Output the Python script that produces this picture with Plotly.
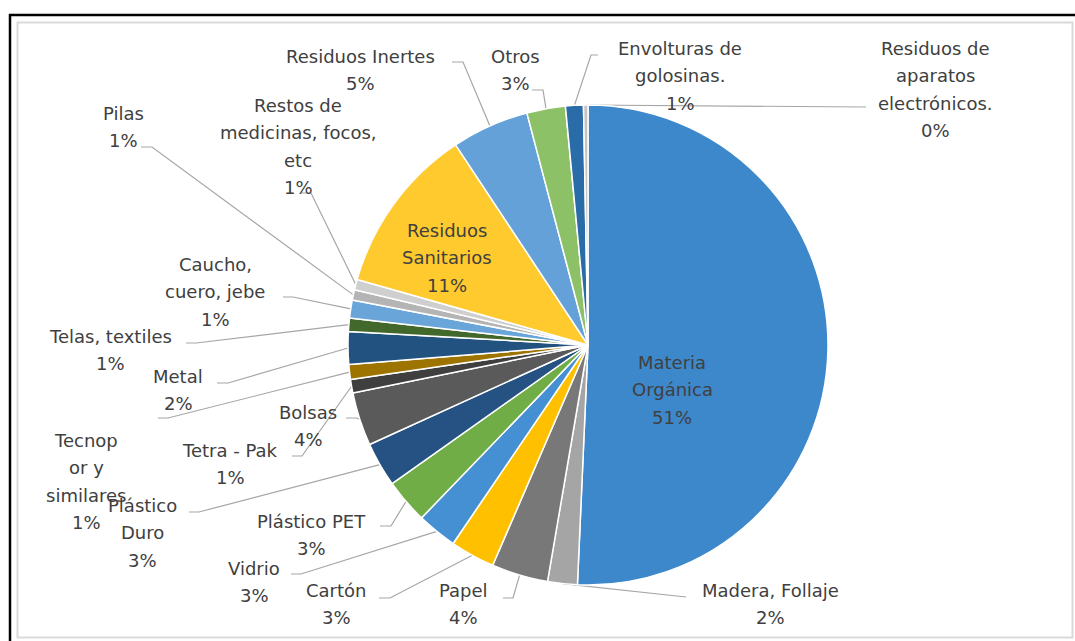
import math
import plotly.graph_objects as go

# Composición de residuos sólidos (%), en el orden en que se dibujan las porciones
CATEGORIAS = [
    "Materia Orgánica", "Madera, Follaje", "Papel", "Cartón", "Vidrio",
    "Plástico PET", "Plástico Duro", "Bolsas", "Tetra - Pak",
    "Tecnopor y similares", "Metal", "Telas, textiles", "Caucho, cuero, jebe",
    "Pilas", "Restos de medicinas, focos, etc", "Residuos Sanitarios",
    "Residuos Inertes", "Otros", "Envolturas de golosinas.",
    "Residuos de aparatos electrónicos.",
]
PORCENTAJES = [
    50.7, 2.0, 3.8, 3.0, 2.7,
    3.0, 3.0, 3.6, 0.9,
    1.0, 2.2, 0.9, 1.2,
    0.7, 0.7, 11.3,
    5.2, 2.6, 1.2,
    0.3,
]
COLORES = [
    "#3D87CB", "#A5A5A5", "#787878", "#FFC000", "#4590D3",
    "#70AD47", "#255282", "#5A5A5A", "#3F3F3F",
    "#9E7400", "#22527F", "#43682B", "#6AA5DA",
    "#B4B4B4", "#CFCFCF", "#FFCA2E",
    "#64A1D8", "#8CC168", "#2A6CA8",
    "#C4C4C4",
]

# Rótulos: centro x, y de la primera línea, líneas de texto, tramo del conector junto al texto
ROTULOS = {
    "Materia Orgánica": (672, 362, ["Materia", "Orgánica"], None),
    "Madera, Follaje": (770, 590, ["Madera, Follaje"], [(686, 597)]),
    "Papel": (463, 590, ["Papel"], [(503, 598), (513, 598)]),
    "Cartón": (336, 590, ["Cartón"], [(379, 598), (390, 598)]),
    "Vidrio": (254, 568, ["Vidrio"], [(291, 574), (301, 574)]),
    "Plástico PET": (311, 521, ["Plástico PET"], [(380, 526), (391, 526)]),
    "Plástico Duro": (142, 505, ["Plástico", "Duro"], [(189, 512), (199, 512)]),
    "Bolsas": (308, 412, ["Bolsas"], [(346, 418), (356, 418)]),
    "Tetra - Pak": (230, 450, ["Tetra - Pak"], [(292, 456), (302, 456)]),
    "Tecnopor y similares": (86, 440, ["Tecnop", "or y", "similares"], [(158, 418), (168, 418)]),
    "Metal": (178, 376, ["Metal"], [(217, 383), (228, 383)]),
    "Telas, textiles": (110, 336, ["Telas, textiles"], [(186, 343), (196, 343)]),
    "Caucho, cuero, jebe": (215, 264, ["Caucho,", "cuero, jebe"], [(283, 297), (293, 297)]),
    "Pilas": (123, 113, ["Pilas"], [(141, 147), (152, 147)]),
    "Restos de medicinas, focos, etc": (298, 105, ["Restos de", "medicinas, focos,", "etc"], [(301, 193), (311, 193)]),
    "Residuos Sanitarios": (447, 230, ["Residuos", "Sanitarios"], None),
    "Residuos Inertes": (360, 56, ["Residuos Inertes"], [(452, 62), (463, 62)]),
    "Otros": (515, 56, ["Otros"], [(532, 90), (543, 90)]),
    "Envolturas de golosinas.": (680, 48, ["Envolturas de", "golosinas."], [(598, 55), (591, 55)]),
    "Residuos de aparatos electrónicos.": (935, 48, ["Residuos de", "aparatos", "electrónicos."], [(866, 107)]),
}

W, H = 1075, 641
CX, CY, R = 588, 345, 240
INTERLINEA = 27.5
FUENTE = dict(family="DejaVu Sans", size=18, color="#404040")

fig = go.Figure()

fig.add_trace(go.Pie(
    labels=CATEGORIAS,
    values=PORCENTAJES,
    sort=False,
    direction="clockwise",
    rotation=0,
    textinfo="none",
    hoverinfo="label+percent",
    marker=dict(colors=COLORES, line=dict(color="white", width=1.5)),
    domain=dict(x=[(CX - R) / W, (CX + R) / W],
                y=[(H - CY - R) / H, (H - CY + R) / H]),
    showlegend=False,
))

total = sum(PORCENTAJES)
acum = 0.0
anotaciones = []
for cat, val in zip(CATEGORIAS, PORCENTAJES):
    medio = (acum + val / 2) / total * 2 * math.pi
    acum += val
    x0, y0, lineas, tramo = ROTULOS[cat]
    pct = f"{int(val / total * 100 + 0.5)}%"
    for i, txt in enumerate(lineas + [pct]):
        anotaciones.append(dict(
            x=x0, y=y0 + i * INTERLINEA, xref="x", yref="y", text=txt,
            showarrow=False, font=FUENTE, xanchor="center", yanchor="middle",
        ))
    if tramo:
        ex = CX + R * math.sin(medio)
        ey = CY - R * math.cos(medio)
        xs = [p[0] for p in tramo] + [ex]
        ys = [p[1] for p in tramo] + [ey]
        fig.add_trace(go.Scatter(
            x=xs, y=ys, mode="lines", line=dict(color="#A6A6A6", width=1.2),
            hoverinfo="skip", showlegend=False,
        ))

fig.update_layout(
    width=W, height=H,
    margin=dict(l=0, r=0, t=0, b=0),
    paper_bgcolor="white", plot_bgcolor="rgba(0,0,0,0)",
    xaxis=dict(range=[0, W], visible=False, domain=[0, 1], fixedrange=True),
    yaxis=dict(range=[H, 0], visible=False, domain=[0, 1], fixedrange=True),
    annotations=anotaciones,
    shapes=[
        dict(type="line", xref="x", yref="y", x0=9, y0=15, x1=W, y1=15,
             line=dict(color="black", width=2.5)),
        dict(type="line", xref="x", yref="y", x0=10, y0=14, x1=10, y1=H,
             line=dict(color="black", width=2.5)),
        dict(type="rect", xref="x", yref="y", x0=17.5, y0=22.5, x1=1072.5, y1=637.5,
             line=dict(color="#DADADA", width=2)),
    ],
)

fig.write_html("out.html")
